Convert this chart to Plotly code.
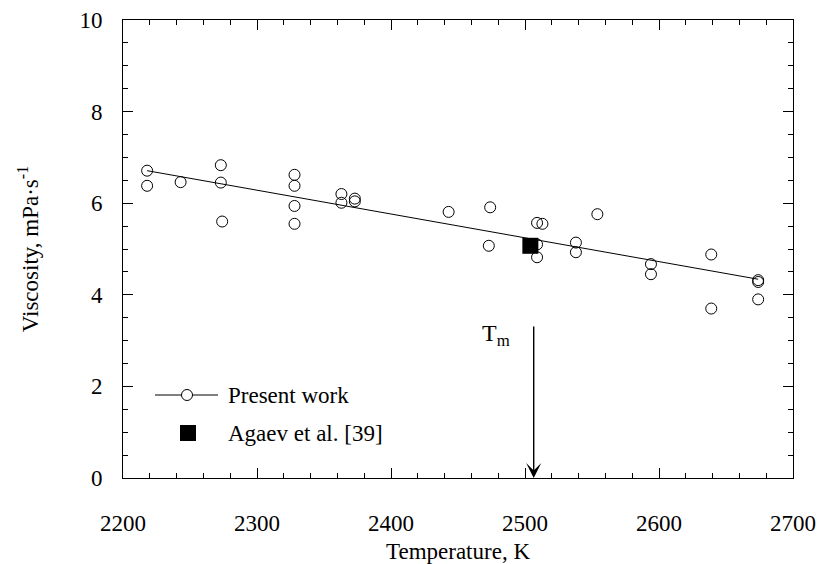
import plotly.graph_objects as go

# Present work data (Temperature K, Viscosity mPa s)
temp_present = [2218, 2218, 2243, 2273, 2273, 2274, 2328, 2328, 2328, 2328,
                2363, 2363, 2373, 2373, 2443, 2474, 2473, 2509, 2513, 2509,
                2509, 2538, 2538, 2554, 2594, 2594, 2639, 2639, 2674, 2674, 2674]
visc_present = [6.71, 6.38, 6.46, 6.83, 6.45, 5.60, 6.62, 6.38, 5.94, 5.55,
                6.20, 6.01, 6.10, 6.04, 5.81, 5.91, 5.07, 5.57, 5.55, 4.82,
                5.10, 5.14, 4.93, 5.76, 4.67, 4.45, 4.88, 3.70, 4.32, 4.28, 3.90]

# Linear fit line
fit_temp = [2218, 2674]
fit_visc = [6.71, 4.34]

# Agaev et al. [39]
temp_agaev = [2504]
visc_agaev = [5.07]

# Melting temperature marker
tm_temp = 2506.5
tm_arrow_top = 3.34

legend_labels = ["Present work", "Agaev et al. [39]"]

FONT = "Liberation Serif"

# plot area in pixels (for placing the hand-drawn legend)
W, H = 819, 564
ML, MR, MT, MB = 123, 26, 20, 86
PW, PH = W - ML - MR, H - MT - MB


def px_x(p):
    return (p - ML) / PW


def px_y(p):
    return (H - MB - p) / PH


fig = go.Figure()

fig.add_trace(go.Scatter(
    x=fit_temp, y=fit_visc, mode="lines",
    line=dict(color="black", width=1),
    showlegend=False, hoverinfo="skip"))

fig.add_trace(go.Scatter(
    x=temp_present, y=visc_present, mode="markers", name=legend_labels[0],
    marker=dict(symbol="circle-open", size=11, color="black", line=dict(width=1, color="black")),
    showlegend=False))

fig.add_trace(go.Scatter(
    x=temp_agaev, y=visc_agaev, mode="markers", name=legend_labels[1],
    marker=dict(symbol="square", size=16, color="black"),
    showlegend=False))

# arrow marking melting temperature
fig.add_annotation(
    x=tm_temp, y=0, ax=tm_temp, ay=tm_arrow_top, xref="x", yref="y", axref="x", ayref="y",
    text="", showarrow=True, arrowhead=3, arrowsize=1.8, arrowwidth=1.4, arrowcolor="black", standoff=0)

fig.add_annotation(
    x=2478, y=3.13, xref="x", yref="y", text="T<sub>m</sub>", showarrow=False,
    font=dict(family=FONT, size=24, color="black"))

# hand-drawn legend
ly1, ly2 = px_y(395), px_y(433)
fig.add_shape(type="line", xref="paper", yref="paper", x0=px_x(155), x1=px_x(218), y0=ly1, y1=ly1,
              line=dict(color="black", width=1))
fig.add_shape(type="circle", xref="paper", yref="paper", xsizemode="pixel", ysizemode="pixel",
              xanchor=px_x(187), yanchor=ly1, x0=-5.5, x1=5.5, y0=-5.5, y1=5.5,
              line=dict(color="black", width=1), fillcolor="white")
fig.add_shape(type="rect", xref="paper", yref="paper", xsizemode="pixel", ysizemode="pixel",
              xanchor=px_x(188), yanchor=ly2, x0=-8, x1=8, y0=-8, y1=8,
              line=dict(color="black", width=0), fillcolor="black")
fig.add_annotation(x=px_x(226), y=ly1, xref="paper", yref="paper", xanchor="left", yanchor="middle",
                   text=legend_labels[0], showarrow=False, font=dict(family=FONT, size=23, color="black"))
fig.add_annotation(x=px_x(226), y=ly2, xref="paper", yref="paper", xanchor="left", yanchor="middle",
                   text=legend_labels[1], showarrow=False, font=dict(family=FONT, size=23, color="black"))

axis_common = dict(
    showline=True, linecolor="black", linewidth=1, mirror="allticks",
    ticks="inside", ticklen=10, tickwidth=1, tickcolor="black",
    showgrid=False, zeroline=False, automargin=False,
    tickfont=dict(family=FONT, size=23, color="black"),
)

fig.update_xaxes(
    range=[2200, 2700], tickvals=[2200, 2300, 2400, 2500, 2600, 2700],
    minor=dict(dtick=20, ticks="inside", ticklen=5, tickwidth=1, tickcolor="black"),
    title=dict(text="Temperature, K", font=dict(family=FONT, size=23, color="black"), standoff=12),
    ticklabelstandoff=24,
    **axis_common)

fig.update_yaxes(
    range=[0, 10], tickvals=[0, 2, 4, 6, 8, 10],
    minor=dict(dtick=0.5, ticks="inside", ticklen=5, tickwidth=1, tickcolor="black"),
    title=dict(text="Viscosity, mPa·s<sup>-1</sup>", font=dict(family=FONT, size=23, color="black"), standoff=34),
    ticklabelstandoff=15,
    **axis_common)

fig.update_layout(
    width=W, height=H,
    margin=dict(l=ML, r=MR, t=MT, b=MB),
    paper_bgcolor="white", plot_bgcolor="white",
    font=dict(family=FONT, size=23, color="black"),
    showlegend=False,
)

fig.write_html("out.html")
